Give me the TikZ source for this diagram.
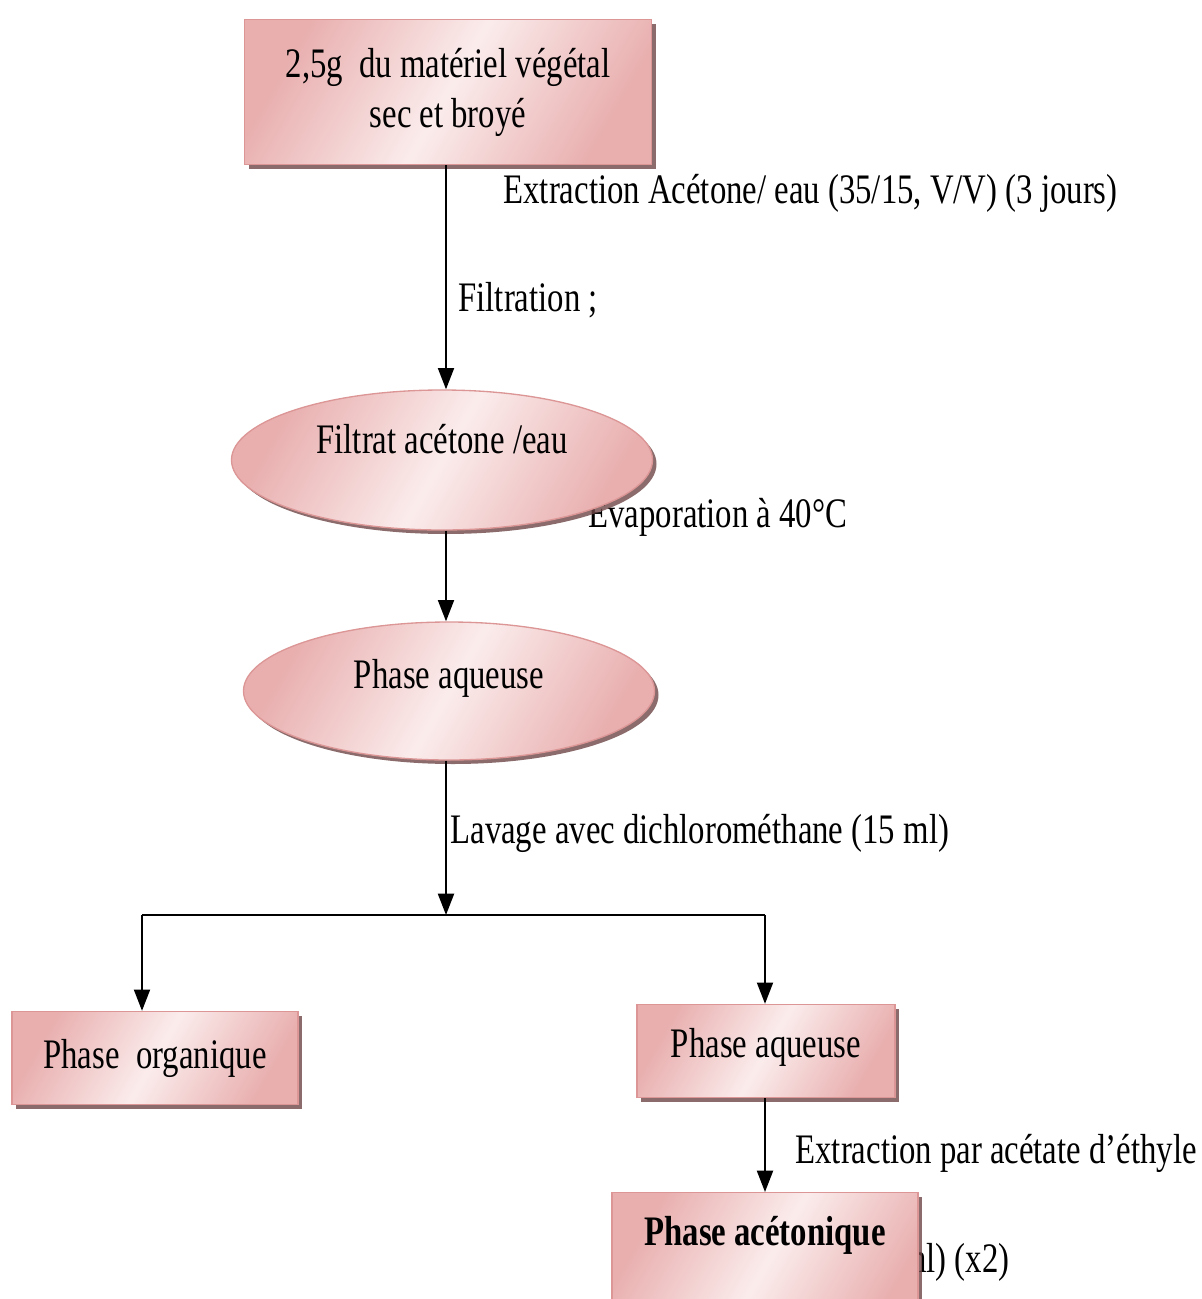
\documentclass[tikz,border=0pt]{standalone}
\usepackage{fontspec}
\setmainfont{Liberation Serif}[FakeStretch=0.78]
\usetikzlibrary{shapes.geometric,shadows,arrows.meta}

\definecolor{pinkedge}{RGB}{220,150,150}
\definecolor{pinkdark}{RGB}{233,175,175}
\definecolor{pinklight}{RGB}{251,236,236}
\definecolor{shadowbrown}{RGB}{110,70,70}

\tikzset{every picture/.style={line width=0.75pt}}
\tikzset{
  procbox/.style={draw=pinkedge, line width=1pt, left color=pinkdark, right color=pinkdark,
    middle color=pinklight, shading angle=60, inner sep=0pt, align=center,
    drop shadow={shadow xshift=3pt, shadow yshift=-3pt, fill=shadowbrown, opacity=0.8}},
  procell/.style={procbox, ellipse},
  steplabel/.style={anchor=west, inner sep=0pt},
  arr/.style={-{Triangle[length=16pt,width=12pt]}, line width=1.5pt},
  lin/.style={line width=1.5pt}
}

\begin{document}
\begin{tikzpicture}[x=0.75pt,y=0.75pt,yscale=-1,xscale=1]
\fontsize{31.5pt}{37.5pt}\selectfont
\useasboundingbox (0,0) rectangle (1202,1299);
\clip (0,0) rectangle (1202,1299);

% Text Node (drawn first, partly hidden)
\node [steplabel] (evap) at (588,514) {Évaporation à 40°C};
% Text Node
\node [anchor=east, inner sep=0pt] (fois) at (1010,1262) {(15 ml) (x2)};

%Shape: Rectangle
\node [procbox, minimum width=305.25pt, minimum height=108.75pt] (plant) at (448,92)
  {2,5g~ du matériel végétal\\sec et broyé};
%Shape: Ellipse
\node [procell, minimum width=315.75pt, minimum height=105pt, text depth=32pt] (filtrat) at (442,460)
  {Filtrat acétone /eau};
%Shape: Ellipse
\node [procell, minimum width=308.25pt, minimum height=103.5pt, text depth=26pt] (aqueuse) at (449,691)
  {Phase aqueuse};
%Shape: Rectangle
\node [procbox, minimum width=214.5pt, minimum height=69.75pt] (organique) at (155,1058)
  {Phase~ organique};
%Shape: Rectangle
\node [procbox, minimum width=193.5pt, minimum height=69.75pt, text depth=12pt] (aqueuse2) at (766,1051)
  {Phase aqueuse};
%Shape: Rectangle
\node [procbox, anchor=north, minimum width=229.5pt, text height=39.75pt, text depth=70pt,
  font=\bfseries] (acetonique) at (765,1192) {Phase acétonique};

\coordinate (split) at (446,915);
\coordinate (splitL) at (142,915);
\coordinate (splitR) at (765,915);

%Straight Lines
\draw [arr] (plant.south -| 446,0) -- (filtrat.north -| 446,0);
\draw [arr] (filtrat.south -| 446,0) -- (aqueuse.north -| 446,0);
\draw [arr] (aqueuse.south -| 446,0) -- (split);
\draw [lin] (splitL) -- (splitR);
\draw [arr] (splitL) -- (splitL |- organique.north);
\draw [arr] (splitR) -- (splitR |- aqueuse2.north);
\draw [arr] (aqueuse2.south -| splitR) -- (acetonique.north -| splitR);

% Text Node
\node [steplabel] (extr) at (503,193) {Extraction Acétone/ eau (35/15, V/V) (3 jours)};
% Text Node
\node [steplabel] (filt) at (458,300) {Filtration ;};
% Text Node
\node [steplabel] (lav) at (450,833) {Lavage avec dichlorométhane (15 ml)};
% Text Node
\node [steplabel] (ethyl) at (795,1153) {Extraction par acétate d’éthyle};

\end{tikzpicture}
\end{document}
